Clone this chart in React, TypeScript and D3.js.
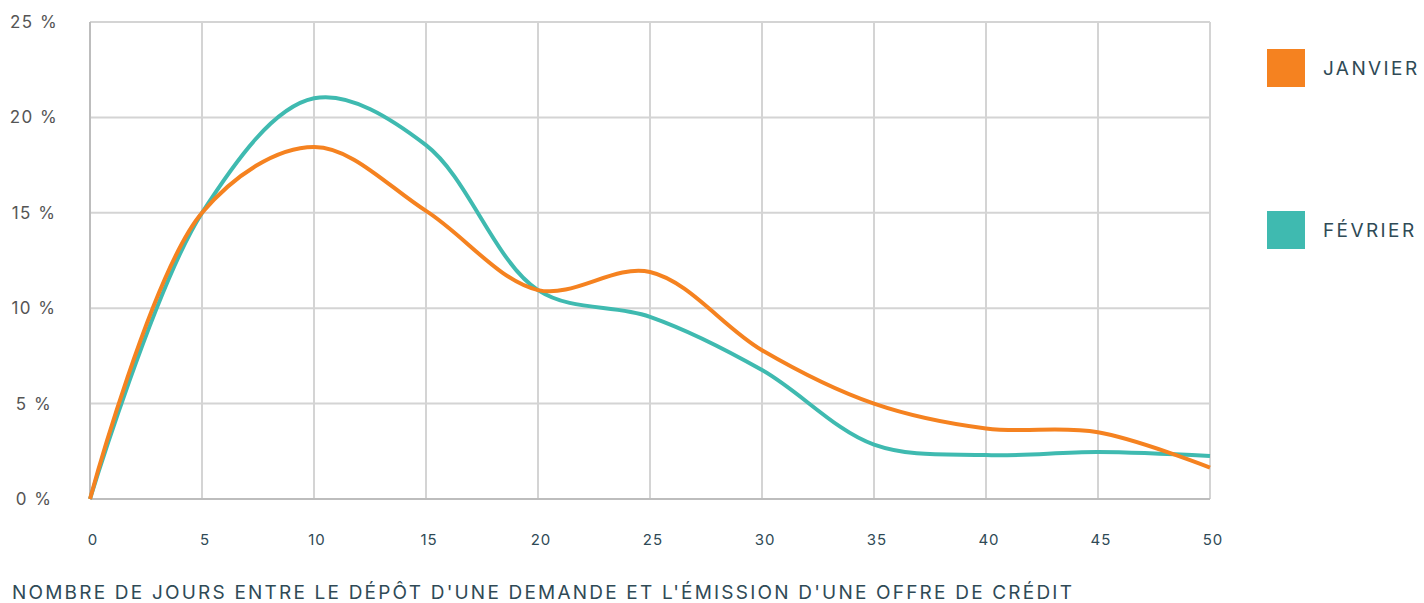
import React, { useEffect, useRef } from "react";
import * as d3 from "d3";

const days = [0, 5, 10, 15, 20, 25, 30, 35, 40, 45, 50];
const janvier = [0, 15.0, 18.45, 15.1, 10.95, 11.9, 7.8, 5.0, 3.7, 3.5, 1.65];
const fevrier = [0, 15.0, 21.0, 18.55, 10.95, 9.55, 6.76, 2.85, 2.3, 2.46, 2.25];
const seriesNames = ["JANVIER", "FÉVRIER"];
const seriesColors = ["#f58220", "#3fbab0"];
const xTicks = [0, 5, 10, 15, 20, 25, 30, 35, 40, 45, 50];
const yTicks = [0, 5, 10, 15, 20, 25];
const xTitle = "NOMBRE DE JOURS ENTRE LE DÉPÔT D'UNE DEMANDE ET L'ÉMISSION D'UNE OFFRE DE CRÉDIT";

const W = 1424;
const H = 603;
const FONT = "Inter, 'Noto Sans', sans-serif";

const App: React.FC = () => {
  const svgRef = useRef<SVGSVGElement | null>(null);

  useEffect(() => {
    if (!svgRef.current) return;
    const svg = d3.select(svgRef.current);
    svg.selectAll("*").remove();

    const margin = { top: 22, right: 214, bottom: 104, left: 90 };
    const x = d3.scaleLinear().domain([0, 50]).range([margin.left, W - margin.right]);
    const y = d3.scaleLinear().domain([0, 25]).range([H - margin.bottom, margin.top]);

    // grid
    const grid = svg.append("g");
    grid.selectAll("line.v")
      .data(xTicks.slice(1))
      .join("line")
      .attr("x1", d => x(d)).attr("x2", d => x(d))
      .attr("y1", y(25)).attr("y2", y(0))
      .attr("stroke", "#d4d4d4").attr("stroke-width", 2);
    grid.selectAll("line.h")
      .data(yTicks.slice(1))
      .join("line")
      .attr("x1", x(0)).attr("x2", x(50))
      .attr("y1", d => y(d)).attr("y2", d => y(d))
      .attr("stroke", "#d4d4d4").attr("stroke-width", 2);

    // axes lines
    svg.append("line")
      .attr("x1", x(0)).attr("x2", x(0)).attr("y1", y(25)).attr("y2", y(0))
      .attr("stroke", "#bdbdbd").attr("stroke-width", 2);
    svg.append("line")
      .attr("x1", x(0)).attr("x2", x(50)).attr("y1", y(0)).attr("y2", y(0))
      .attr("stroke", "#bdbdbd").attr("stroke-width", 2);

    // tick labels
    svg.append("g").selectAll("text")
      .data(yTicks)
      .join("text")
      .attr("x", 34)
      .attr("y", d => y(d) + 6)
      .attr("text-anchor", "middle")
      .style("font-family", FONT)
      .style("font-size", "17px")
      .style("letter-spacing", "1.5px")
      .style("fill", "#555")
      .text(d => `${d} %`);

    svg.append("g").selectAll("text")
      .data(xTicks)
      .join("text")
      .attr("x", d => x(d) + 3)
      .attr("y", 545)
      .attr("text-anchor", "middle")
      .style("font-family", FONT)
      .style("font-size", "15px")
      .style("letter-spacing", "1px")
      .style("fill", "#2f4a56")
      .text(d => `${d}`);

    svg.append("text")
      .attr("x", 12)
      .attr("y", 599)
      .style("font-family", FONT)
      .style("font-size", "19px")
      .style("letter-spacing", "2.2px")
      .style("fill", "#2f4a56")
      .text(xTitle);

    // lines
    const line = d3.line<[number, number]>()
      .x(d => x(d[0]))
      .y(d => y(d[1]))
      .curve(d3.curveCatmullRom.alpha(0.5));

    [janvier, fevrier].slice().reverse().forEach((vals, i) => {
      const idx = 1 - i;
      svg.append("path")
        .datum(days.map((d, j) => [d, vals[j]] as [number, number]))
        .attr("d", line)
        .attr("fill", "none")
        .attr("stroke", seriesColors[idx])
        .attr("stroke-width", 4)
        .attr("stroke-linejoin", "round");
    });

    // legend
    const legend = svg.append("g");
    seriesNames.forEach((name, i) => {
      const ly = 49 + i * 162;
      legend.append("rect")
        .attr("x", 1267).attr("y", ly)
        .attr("width", 38).attr("height", 38)
        .attr("fill", seriesColors[i]);
      legend.append("text")
        .attr("x", 1323).attr("y", ly + 26)
        .style("font-family", FONT)
        .style("font-size", "19px")
        .style("letter-spacing", "2.4px")
        .style("fill", "#2f4a56")
        .text(name);
    });
  }, []);

  return (
    <div style={{ position: "absolute", left: 0, top: 0, width: W, height: H, background: "#fff" }}>
      <svg ref={svgRef} width={W} height={H} style={{ display: "block" }} />
    </div>
  );
};

export default App;
